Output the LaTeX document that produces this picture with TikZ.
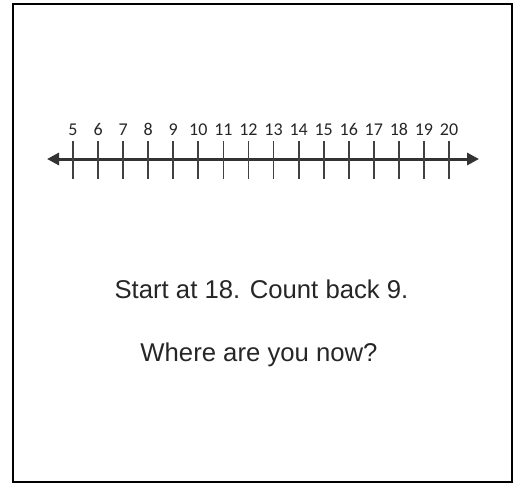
\documentclass[tikz,border=0pt]{standalone}
\usepackage{fontspec}
\setmainfont{Liberation Sans}
\newfontfamily\numfont{Carlito}
\usetikzlibrary{arrows.meta, positioning, calc}

\begin{document}
\begin{tikzpicture}[
  x=1pt, y=-1pt,
  frame/.style={draw=black, line width=2pt},
  axis/.style={{Triangle[length=12pt,width=12pt]}-{Triangle[length=12pt,width=12pt]}, line width=3pt, draw=black!80},
  tick/.style={line width=1.8pt, draw=black!75},
  num/.style={font=\numfont\fontsize{18}{18}\selectfont, text=black!85, inner sep=0pt, anchor=base},
  prompt/.style={font=\fontsize{25.7}{28}\selectfont, text=black!85, inner sep=0pt, anchor=base},
]
\useasboundingbox (0,0) rectangle (517,485);

% card outline
\draw[frame] (13,4) rectangle (512,482);

% number line
\coordinate (lend) at (47,159);
\coordinate (rend) at (479,159);
\draw[axis] (lend) -- (rend);

% ticks and labels 5 .. 20
\foreach \n in {5,...,20} {
  \coordinate (t\n) at ({73+25.07*(\n-5)},159);
  \draw[tick] ($(t\n)+(0,-18)$) -- ($(t\n)+(0,20)$);
  \node[num] (l\n) at ({73+25.07*(\n-5)},135) {\n};
}

% question text
\node[prompt] (start) at (261.5,298) {Start at 18. Count back 9.};
\node[prompt] (where) at (259,361) {Where are you now?};

\end{tikzpicture}
\end{document}
